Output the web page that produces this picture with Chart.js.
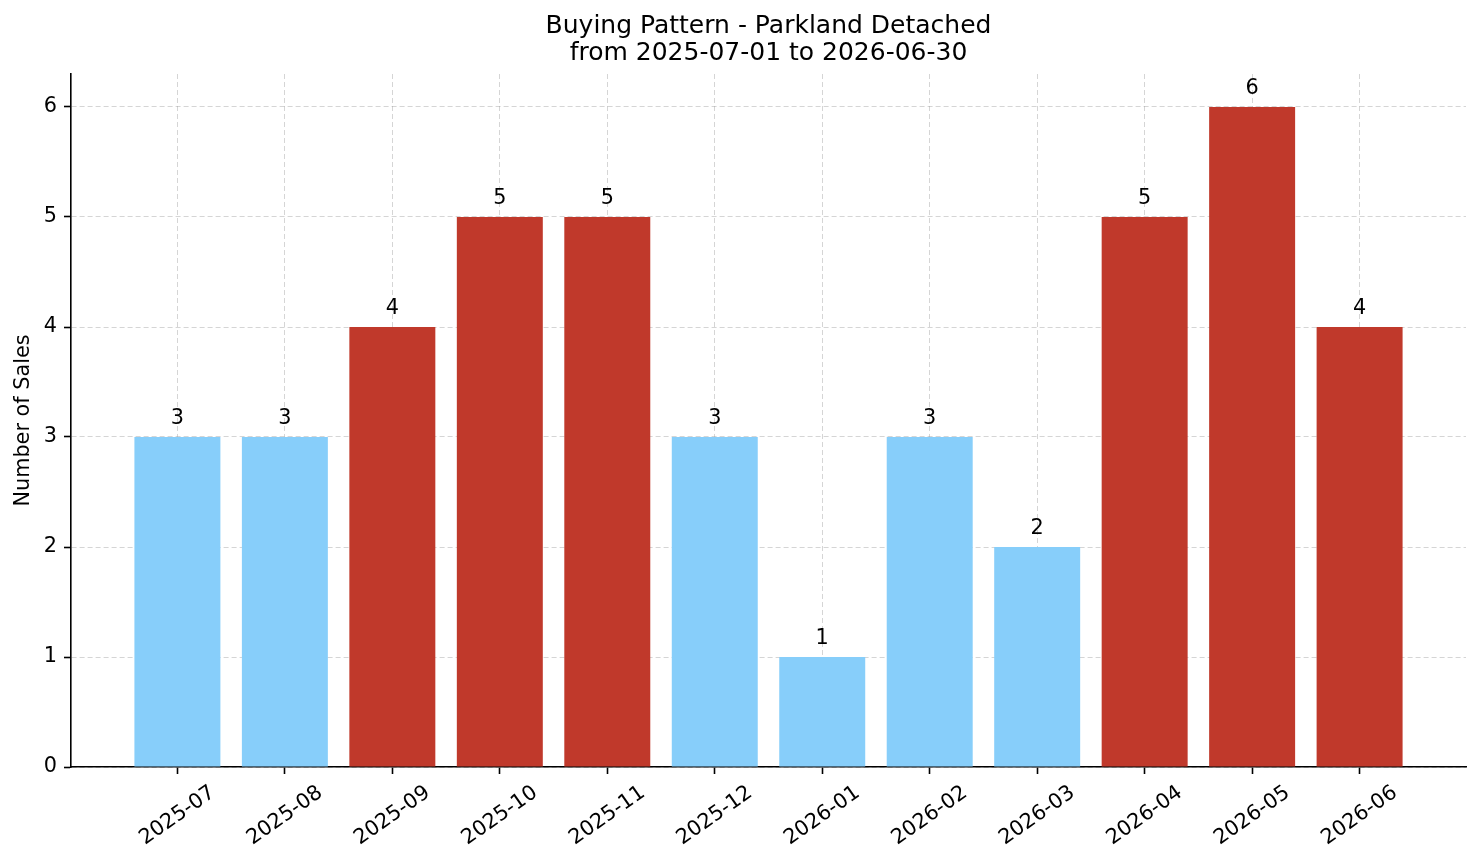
<!DOCTYPE html>
<html>
<head>
<meta charset="utf-8">
<title>Buying Pattern - Parkland Detached</title>
<script src="https://cdn.jsdelivr.net/npm/chart.js@4/dist/chart.umd.min.js"></script>
<style>
    html, body { margin: 0; padding: 0; background: #fff; }
    #wrap { width: 1481px; height: 863px; }
</style>
</head>
<body>
<div id="wrap"><canvas id="buyingChart" width="1481" height="863"></canvas></div>
<script>
    // Monthly sales counts
    const months = ['2025-07', '2025-08', '2025-09', '2025-10', '2025-11', '2025-12',
                    '2026-01', '2026-02', '2026-03', '2026-04', '2026-05', '2026-06'];
    const sales = [3, 3, 4, 5, 5, 3, 1, 3, 2, 5, 6, 4];
    const yTicks = [0, 1, 2, 3, 4, 5, 6];
    const titleLines = ['Buying Pattern - Parkland Detached', 'from 2025-07-01 to 2026-06-30'];

    const HIGH_COLOR = '#c0392b';
    const LOW_COLOR = '#87cefa';
    const HIGH_FROM = 4;

    const FONT = 'DejaVu Sans';
    const TICK_SIZE = 20.8;
    const GRID_COLOR = 'rgba(150, 150, 150, 0.4)';

    // Title centred over the plot area (not the whole canvas)
    const axesTitle = {
        id: 'axesTitle',
        afterDraw(chart) {
            const ctx = chart.ctx;
            const area = chart.chartArea;
            const cx = (area.left + area.right) / 2;
            ctx.save();
            ctx.font = '25px "' + FONT + '"';
            ctx.fillStyle = '#000';
            ctx.textAlign = 'center';
            ctx.textBaseline = 'alphabetic';
            ctx.fillText(titleLines[0], cx, 33);
            ctx.fillText(titleLines[1], cx, 60);
            ctx.restore();
        }
    };

    // Value labels above each bar
    const barLabels = {
        id: 'barLabels',
        afterDatasetsDraw(chart) {
            const ctx = chart.ctx;
            const meta = chart.getDatasetMeta(0);
            ctx.save();
            ctx.font = TICK_SIZE + 'px "' + FONT + '"';
            ctx.fillStyle = '#000';
            ctx.textAlign = 'center';
            ctx.textBaseline = 'alphabetic';
            meta.data.forEach((bar, i) => {
                ctx.fillText(String(sales[i]), bar.x, bar.y - 13);
            });
            ctx.restore();
        }
    };

    // Rotated month labels, centred under each tick like matplotlib does
    const monthLabels = {
        id: 'monthLabels',
        afterDraw(chart) {
            const ctx = chart.ctx;
            const xScale = chart.scales.x;
            const angle = 35 * Math.PI / 180;
            const top = chart.chartArea.bottom + 14;
            const textH = TICK_SIZE * 1.15;
            ctx.save();
            ctx.font = TICK_SIZE + 'px "' + FONT + '"';
            ctx.fillStyle = '#000';
            ctx.textAlign = 'center';
            ctx.textBaseline = 'middle';
            months.forEach((m, i) => {
                const w = ctx.measureText(m).width;
                const h = w * Math.sin(angle) + textH * Math.cos(angle);
                ctx.save();
                ctx.translate(xScale.getPixelForValue(i), top + h / 2);
                ctx.rotate(-angle);
                ctx.fillText(m, 0, 0);
                ctx.restore();
            });
            ctx.restore();
        }
    };

    const ctx = document.getElementById('buyingChart');

    new Chart(ctx, {
        type: 'bar',
        data: {
            datasets: [{
                label: 'Sales',
                data: sales.map((v, i) => ({ x: i, y: v })),
                backgroundColor: sales.map(v => v >= HIGH_FROM ? HIGH_COLOR : LOW_COLOR),
                borderWidth: 0,
                barPercentage: 0.8,
                categoryPercentage: 1.0
            }]
        },
        options: {
            responsive: false,
            devicePixelRatio: 1,
            animation: false,
            layout: { padding: { left: 0, right: 15, top: 74, bottom: 0 } },
            plugins: {
                legend: { display: false },
                tooltip: { enabled: false },
                title: { display: false }
            },
            scales: {
                x: {
                    type: 'linear',
                    min: -0.99,
                    max: 11.99,
                    offset: false,
                    z: 1,
                    afterBuildTicks: function(scale) {
                        scale.ticks = months.map((m, i) => ({ value: i }));
                    },
                    afterFit: function(scale) {
                        scale.height = 96;
                    },
                    ticks: { display: false },
                    grid: {
                        offset: false,
                        color: GRID_COLOR,
                        lineWidth: 1,
                        drawTicks: true,
                        tickLength: 7,
                        tickColor: '#000',
                        tickWidth: 1.6,
                        tickBorderDash: []
                    },
                    border: { display: true, color: '#000', width: 1.6, dash: [5, 3] }
                },
                y: {
                    min: 0,
                    max: 6.3,
                    z: 1,
                    afterBuildTicks: function(scale) {
                        scale.ticks = yTicks.map(v => ({ value: v }));
                    },
                    afterFit: function(scale) {
                        scale.width = 71;
                    },
                    ticks: {
                        color: '#000',
                        padding: 7,
                        font: { family: FONT, size: TICK_SIZE },
                        callback: function(value) { return String(value); }
                    },
                    grid: {
                        color: GRID_COLOR,
                        lineWidth: 1,
                        drawTicks: true,
                        tickLength: 7,
                        tickColor: '#000',
                        tickWidth: 1.6,
                        tickBorderDash: []
                    },
                    border: { display: true, color: '#000', width: 1.6, dash: [5, 3] },
                    title: {
                        display: true,
                        text: 'Number of Sales',
                        color: '#000',
                        font: { family: FONT, size: TICK_SIZE, lineHeight: 1.2 },
                        padding: { top: 11, bottom: 0 }
                    }
                }
            }
        },
        plugins: [barLabels, monthLabels, axesTitle]
    });
</script>
</body>
</html>
